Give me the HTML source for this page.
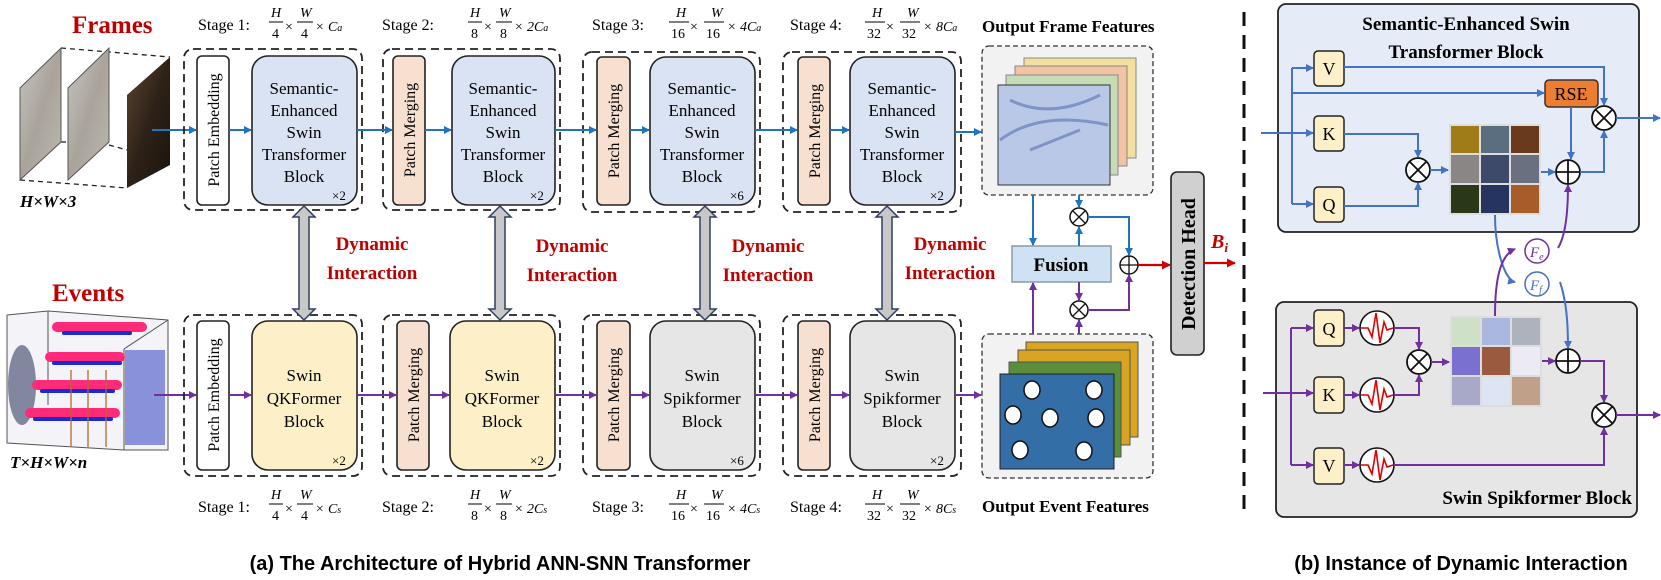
<!DOCTYPE html>
<html><head><meta charset="utf-8"><style>
html,body{margin:0;padding:0;background:#fff;}
svg{display:block;}
.s{font-family:"Liberation Serif",serif;}
.b{font-family:"Liberation Serif",serif;font-weight:bold;}
.cap{font-family:"Liberation Sans",sans-serif;font-weight:bold;font-size:20px;}
</style></head><body>
<svg width="1661" height="580" viewBox="0 0 1661 580" xmlns="http://www.w3.org/2000/svg">
<defs>
<marker id="ab" markerWidth="8" markerHeight="8" refX="7" refY="4" orient="auto" markerUnits="userSpaceOnUse"><path d="M0,0 L8,4 L0,8 z" fill="#1f74c2"/></marker>
<marker id="ap" markerWidth="8" markerHeight="8" refX="7" refY="4" orient="auto" markerUnits="userSpaceOnUse"><path d="M0,0 L8,4 L0,8 z" fill="#7030a0"/></marker>
<marker id="al" markerWidth="8" markerHeight="8" refX="7" refY="4" orient="auto" markerUnits="userSpaceOnUse"><path d="M0,0 L8,4 L0,8 z" fill="#4472c4"/></marker>
<marker id="ar" markerWidth="9" markerHeight="9" refX="8" refY="4.5" orient="auto" markerUnits="userSpaceOnUse"><path d="M0,0 L9,4.5 L0,9 z" fill="#d00000"/></marker>
<linearGradient id="g1" x1="0" y1="0" x2="1" y2="1"><stop offset="0" stop-color="#c9c6c0"/><stop offset="0.5" stop-color="#a9a39b"/><stop offset="1" stop-color="#bdb8b0"/></linearGradient>
<linearGradient id="g2" x1="0" y1="0" x2="1" y2="1"><stop offset="0" stop-color="#5a4630"/><stop offset="0.5" stop-color="#2e2218"/><stop offset="1" stop-color="#1a130c"/></linearGradient>
</defs>

<!-- Frames -->
<text x="72" y="33" class="b" font-size="25" fill="#c00000">Frames</text>
<g stroke="#222" stroke-dasharray="5,4" stroke-width="1.3" fill="none">
<line x1="61" y1="48" x2="170" y2="57"/><line x1="20" y1="180" x2="127" y2="188"/>
<line x1="61" y1="142" x2="68" y2="142"/><line x1="109" y1="145" x2="127" y2="150"/>
</g>
<polygon points="20,88 61,48 61,142 20,180" fill="url(#g1)" stroke="#555"/>
<polygon points="68,88 109,48 109,142 68,180" fill="url(#g1)" stroke="#555"/>
<polygon points="127,95 170,57 170,165 127,188" fill="url(#g2)"/>
<text x="20" y="207" class="b" font-style="italic" font-size="17">H×W×3</text>
<line x1="152" y1="130" x2="196" y2="130" stroke="#1f74c2" stroke-width="2" marker-end="url(#ab)"/>

<!-- Events -->
<text x="52" y="301" class="b" font-size="25" fill="#c00000">Events</text>
<g>
<polygon points="7,315 48,311 168,320 168,450 124,450 7,443" fill="#f4f4f8" stroke="#555"/>
<line x1="48" y1="311" x2="48" y2="405" stroke="#555"/><line x1="124" y1="349" x2="124" y2="450" stroke="#555"/>
<line x1="124" y1="349" x2="168" y2="320" stroke="#555"/>
<rect x="125" y="350" width="40" height="95" fill="#3040c0" opacity="0.55"/>
<ellipse cx="22" cy="385" rx="14" ry="40" fill="#505878" opacity="0.7"/>
<g fill="#ff2a78">
<rect x="52" y="322" width="95" height="10" rx="5"/><rect x="45" y="352" width="80" height="10" rx="5"/>
<rect x="32" y="380" width="90" height="10" rx="5"/><rect x="25" y="408" width="95" height="10" rx="5"/>
</g>
<g fill="#1a2ad0">
<rect x="62" y="331" width="70" height="4" rx="2"/><rect x="52" y="361" width="70" height="4" rx="2"/>
<rect x="40" y="389" width="75" height="4" rx="2"/><rect x="33" y="417" width="80" height="4" rx="2"/>
</g>
<g stroke="#b06a30" stroke-width="1.3"><line x1="71" y1="370" x2="71" y2="447"/><line x1="88" y1="370" x2="88" y2="447"/><line x1="106" y1="370" x2="106" y2="447"/></g>
</g>
<text x="10" y="468" class="b" font-style="italic" font-size="17">T×H×W×n</text>
<line x1="154" y1="395" x2="196" y2="395" stroke="#7030a0" stroke-width="2" marker-end="url(#ap)"/>

<!-- Stage labels -->
<g class="s" font-size="16">
<text x="198" y="30">Stage 1:</text><text x="382" y="30">Stage 2:</text><text x="592" y="30">Stage 3:</text><text x="790" y="30">Stage 4:</text>
<text x="198" y="512">Stage 1:</text><text x="382" y="512">Stage 2:</text><text x="592" y="512">Stage 3:</text><text x="790" y="512">Stage 4:</text>
</g>
<g class="s" font-size="14" font-style="italic">
<text x="271" y="17">H</text><text x="300" y="17">W</text><line x1="269" y1="22" x2="283" y2="22" stroke="#000"/><line x1="297" y1="22" x2="313" y2="22" stroke="#000"/>
<text x="272" y="38" font-style="normal">4</text><text x="301" y="38" font-style="normal">4</text><text x="285" y="31" font-style="normal">×</text><text x="315" y="31">× C<tspan font-size="10">a</tspan></text>
<text x="470" y="17">H</text><text x="499" y="17">W</text><line x1="468" y1="22" x2="482" y2="22" stroke="#000"/><line x1="496" y1="22" x2="512" y2="22" stroke="#000"/>
<text x="471" y="38" font-style="normal">8</text><text x="500" y="38" font-style="normal">8</text><text x="484" y="31" font-style="normal">×</text><text x="514" y="31">× 2C<tspan font-size="10">a</tspan></text>
<text x="676" y="17">H</text><text x="711" y="17">W</text><line x1="669" y1="22" x2="689" y2="22" stroke="#000"/><line x1="704" y1="22" x2="724" y2="22" stroke="#000"/>
<text x="671" y="38" font-style="normal">16</text><text x="706" y="38" font-style="normal">16</text><text x="690" y="31" font-style="normal">×</text><text x="727" y="31">× 4C<tspan font-size="10">a</tspan></text>
<text x="872" y="17">H</text><text x="907" y="17">W</text><line x1="865" y1="22" x2="885" y2="22" stroke="#000"/><line x1="900" y1="22" x2="920" y2="22" stroke="#000"/>
<text x="867" y="38" font-style="normal">32</text><text x="902" y="38" font-style="normal">32</text><text x="886" y="31" font-style="normal">×</text><text x="923" y="31">× 8C<tspan font-size="10">a</tspan></text>
<text x="271" y="499">H</text><text x="300" y="499">W</text><line x1="269" y1="504" x2="283" y2="504" stroke="#000"/><line x1="297" y1="504" x2="313" y2="504" stroke="#000"/>
<text x="272" y="520" font-style="normal">4</text><text x="301" y="520" font-style="normal">4</text><text x="285" y="513" font-style="normal">×</text><text x="315" y="513">× C<tspan font-size="10">s</tspan></text>
<text x="470" y="499">H</text><text x="499" y="499">W</text><line x1="468" y1="504" x2="482" y2="504" stroke="#000"/><line x1="496" y1="504" x2="512" y2="504" stroke="#000"/>
<text x="471" y="520" font-style="normal">8</text><text x="500" y="520" font-style="normal">8</text><text x="484" y="513" font-style="normal">×</text><text x="514" y="513">× 2C<tspan font-size="10">s</tspan></text>
<text x="676" y="499">H</text><text x="711" y="499">W</text><line x1="669" y1="504" x2="689" y2="504" stroke="#000"/><line x1="704" y1="504" x2="724" y2="504" stroke="#000"/>
<text x="671" y="520" font-style="normal">16</text><text x="706" y="520" font-style="normal">16</text><text x="690" y="513" font-style="normal">×</text><text x="727" y="513">× 4C<tspan font-size="10">s</tspan></text>
<text x="872" y="499">H</text><text x="907" y="499">W</text><line x1="865" y1="504" x2="885" y2="504" stroke="#000"/><line x1="900" y1="504" x2="920" y2="504" stroke="#000"/>
<text x="867" y="520" font-style="normal">32</text><text x="902" y="520" font-style="normal">32</text><text x="886" y="513" font-style="normal">×</text><text x="923" y="513">× 8C<tspan font-size="10">s</tspan></text>
</g>

<!-- Dashed stage groups -->
<g fill="none" stroke="#222" stroke-width="1.8" stroke-dasharray="8,5">
<rect x="184" y="49" width="178" height="161" rx="9"/><rect x="383" y="49" width="177" height="161" rx="9"/>
<rect x="583" y="52" width="177" height="160" rx="9"/><rect x="783" y="52" width="178" height="160" rx="9"/>
<rect x="184" y="315" width="178" height="161" rx="9"/><rect x="383" y="315" width="177" height="161" rx="9"/>
<rect x="583" y="315" width="177" height="161" rx="9"/><rect x="783" y="315" width="178" height="161" rx="9"/>
</g>
<g stroke="#222" stroke-width="1.6">
<rect x="197" y="56" width="32" height="149" rx="5" fill="#fff"/>
<rect x="393" y="56" width="32" height="149" rx="5" fill="#f8e0d0"/>
<rect x="597" y="57" width="33" height="148" rx="5" fill="#f8e0d0"/>
<rect x="798" y="57" width="32" height="148" rx="5" fill="#f8e0d0"/>
<rect x="252" y="56" width="105" height="149" rx="16" fill="#dae3f3"/>
<rect x="452" y="56" width="103" height="149" rx="16" fill="#dae3f3"/>
<rect x="650" y="57" width="105" height="148" rx="16" fill="#dae3f3"/>
<rect x="850" y="57" width="105" height="148" rx="16" fill="#dae3f3"/>
<rect x="197" y="321" width="32" height="149" rx="5" fill="#fff"/>
<rect x="397" y="321" width="32" height="149" rx="5" fill="#f8e0d0"/>
<rect x="597" y="321" width="33" height="149" rx="5" fill="#f8e0d0"/>
<rect x="798" y="321" width="32" height="149" rx="5" fill="#f8e0d0"/>
<rect x="252" y="321" width="105" height="149" rx="16" fill="#fdf0c8"/>
<rect x="450" y="321" width="105" height="149" rx="16" fill="#fdf0c8"/>
<rect x="650" y="321" width="105" height="149" rx="16" fill="#e6e6e6"/>
<rect x="850" y="321" width="105" height="149" rx="16" fill="#e6e6e6"/>
</g>
<g class="s" font-size="16" text-anchor="middle">
<text transform="translate(219,130) rotate(-90)">Patch Embedding</text>
<text transform="translate(415,130) rotate(-90)">Patch Merging</text>
<text transform="translate(619,131) rotate(-90)">Patch Merging</text>
<text transform="translate(820,131) rotate(-90)">Patch Merging</text>
<text transform="translate(219,395) rotate(-90)">Patch Embedding</text>
<text transform="translate(419,395) rotate(-90)">Patch Merging</text>
<text transform="translate(619,395) rotate(-90)">Patch Merging</text>
<text transform="translate(820,395) rotate(-90)">Patch Merging</text>
</g>
<g class="s" font-size="17" text-anchor="middle">
<g transform="translate(304,0)"><text y="94">Semantic-</text><text y="116">Enhanced</text><text y="138">Swin</text><text y="160">Transformer</text><text y="182">Block</text></g>
<g transform="translate(503,0)"><text y="94">Semantic-</text><text y="116">Enhanced</text><text y="138">Swin</text><text y="160">Transformer</text><text y="182">Block</text></g>
<g transform="translate(702,0)"><text y="94">Semantic-</text><text y="116">Enhanced</text><text y="138">Swin</text><text y="160">Transformer</text><text y="182">Block</text></g>
<g transform="translate(902,0)"><text y="94">Semantic-</text><text y="116">Enhanced</text><text y="138">Swin</text><text y="160">Transformer</text><text y="182">Block</text></g>
<g transform="translate(304,0)"><text y="381">Swin</text><text y="404">QKFormer</text><text y="427">Block</text></g>
<g transform="translate(502,0)"><text y="381">Swin</text><text y="404">QKFormer</text><text y="427">Block</text></g>
<g transform="translate(702,0)"><text y="381">Swin</text><text y="404">Spikformer</text><text y="427">Block</text></g>
<g transform="translate(902,0)"><text y="381">Swin</text><text y="404">Spikformer</text><text y="427">Block</text></g>
</g>
<g class="s" font-size="13">
<text x="332" y="200">×2</text><text x="530" y="200">×2</text><text x="730" y="200">×6</text><text x="930" y="200">×2</text>
<text x="332" y="465">×2</text><text x="530" y="465">×2</text><text x="730" y="465">×6</text><text x="930" y="465">×2</text>
</g>
<g stroke="#1f74c2" stroke-width="2" marker-end="url(#ab)">
<line x1="229" y1="130" x2="251" y2="130"/><line x1="357" y1="130" x2="392" y2="130"/><line x1="425" y1="130" x2="451" y2="130"/>
<line x1="555" y1="130" x2="596" y2="130"/><line x1="630" y1="130" x2="649" y2="130"/><line x1="755" y1="130" x2="797" y2="130"/>
<line x1="830" y1="130" x2="849" y2="130"/><line x1="955" y1="132" x2="981" y2="132"/>
</g>
<g stroke="#7030a0" stroke-width="2" marker-end="url(#ap)">
<line x1="229" y1="395" x2="251" y2="395"/><line x1="357" y1="395" x2="396" y2="395"/><line x1="429" y1="395" x2="449" y2="395"/>
<line x1="555" y1="395" x2="596" y2="395"/><line x1="630" y1="395" x2="649" y2="395"/><line x1="755" y1="395" x2="797" y2="395"/>
<line x1="830" y1="395" x2="849" y2="395"/><line x1="955" y1="395" x2="981" y2="395"/>
</g>
<g fill="#c8c8c8" stroke="#2f3f5f" stroke-width="1.5">
<path d="M304,206 L315,217 L309,217 L309,309 L315,309 L304,320 L293,309 L299,309 L299,217 L293,217 Z"/>
<path d="M500,206 L511,217 L505,217 L505,309 L511,309 L500,320 L489,309 L495,309 L495,217 L489,217 Z"/>
<path d="M705,206 L716,217 L710,217 L710,309 L716,309 L705,320 L694,309 L700,309 L700,217 L694,217 Z"/>
<path d="M887,206 L898,217 L892,217 L892,309 L898,309 L887,320 L876,309 L882,309 L882,217 L876,217 Z"/>
</g>
<g class="b" font-size="19" fill="#c00000" text-anchor="middle">
<text x="372" y="250">Dynamic</text><text x="372" y="279">Interaction</text>
<text x="572" y="252">Dynamic</text><text x="572" y="281">Interaction</text>
<text x="768" y="252">Dynamic</text><text x="768" y="281">Interaction</text>
<text x="950" y="250">Dynamic</text><text x="950" y="279">Interaction</text>
</g>

<!-- Output frame features -->
<text x="982" y="32" class="b" font-size="17">Output Frame Features</text>
<rect x="982" y="46" width="171" height="149" rx="7" fill="#f2f2f2" stroke="#333" stroke-width="1.3" stroke-dasharray="5,3"/>
<rect x="1024" y="58" width="112" height="100" fill="#f3dfa0" stroke="#888"/>
<rect x="1015" y="66" width="112" height="100" fill="#f2c4a4" stroke="#888"/>
<rect x="1006" y="75" width="112" height="100" fill="#c6dcb8" stroke="#888"/>
<rect x="998" y="85" width="112" height="100" fill="#b8c8e6" stroke="#333"/>
<path d="M1000,140 Q1040,110 1108,125 M1010,100 Q1050,120 1100,95 M1030,150 L1080,130" stroke="#5a70b0" stroke-width="3" fill="none" opacity="0.6"/>
<rect x="982" y="334" width="171" height="144" rx="7" fill="#f2f2f2" stroke="#333" stroke-width="1.3" stroke-dasharray="5,3"/>
<rect x="1026" y="342" width="112" height="95" fill="#daa520" stroke="#555"/>
<rect x="1018" y="350" width="112" height="95" fill="#d8a424" stroke="#555"/>
<rect x="1009" y="362" width="112" height="95" fill="#5a8e3a" stroke="#555"/>
<rect x="1000" y="374" width="114" height="95" fill="#336fa6" stroke="#222"/>
<g fill="#fff" stroke="#111" stroke-width="1.5">
<ellipse cx="1032" cy="390" rx="8" ry="9"/><ellipse cx="1094" cy="390" rx="8" ry="9"/>
<ellipse cx="1013" cy="415" rx="8" ry="9"/><ellipse cx="1050" cy="418" rx="8" ry="9"/><ellipse cx="1096" cy="418" rx="8" ry="9"/>
<ellipse cx="1020" cy="450" rx="8" ry="9"/><ellipse cx="1084" cy="451" rx="8" ry="9"/>
</g>
<text x="982" y="512" class="b" font-size="17">Output Event Features</text>

<rect x="1012" y="246" width="99" height="36" fill="#cfe2f3" stroke="#8a9aaa" stroke-width="1.5"/>
<text x="1061" y="271" class="b" font-size="19" text-anchor="middle">Fusion</text>
<g fill="#fff" stroke="#111" stroke-width="1.5">
<circle cx="1079" cy="217" r="9"/><circle cx="1079" cy="310" r="9"/><circle cx="1129" cy="265" r="9"/>
</g>
<g stroke="#111" stroke-width="1.3">
<path d="M1073,211 L1085,223 M1085,211 L1073,223 M1073,304 L1085,316 M1085,304 L1073,316 M1120,265 L1138,265 M1129,256 L1129,274"/>
</g>
<g stroke="#1f74c2" stroke-width="2" fill="none">
<line x1="1033" y1="195" x2="1033" y2="245" marker-end="url(#ab)"/>
<line x1="1079" y1="195" x2="1079" y2="207" marker-end="url(#ab)"/>
<line x1="1079" y1="246" x2="1079" y2="227" marker-end="url(#ab)"/>
<polyline points="1088,217 1129,217 1129,255" marker-end="url(#ab)"/>
</g>
<g stroke="#7030a0" stroke-width="2" fill="none">
<line x1="1033" y1="334" x2="1033" y2="283" marker-end="url(#ap)"/>
<line x1="1079" y1="282" x2="1079" y2="300" marker-end="url(#ap)"/>
<line x1="1079" y1="334" x2="1079" y2="320" marker-end="url(#ap)"/>
<polyline points="1088,310 1129,310 1129,275" marker-end="url(#ap)"/>
</g>
<line x1="1138" y1="265" x2="1170" y2="265" stroke="#d00000" stroke-width="2.2" marker-end="url(#ar)"/>
<rect x="1171" y="172" width="33" height="183" rx="6" fill="#d0d0d0" stroke="#222" stroke-width="1.6"/>
<text transform="translate(1195,264) rotate(-90)" class="b" font-size="20" text-anchor="middle">Detection Head</text>
<line x1="1204" y1="263" x2="1235" y2="263" stroke="#d00000" stroke-width="2.2" marker-end="url(#ar)"/>
<text x="1211" y="248" class="b" font-style="italic" font-size="20" fill="#c00000">B<tspan font-size="13" dy="4">i</tspan></text>

<line x1="1244" y1="12" x2="1244" y2="515" stroke="#111" stroke-width="3" stroke-dasharray="14,9"/>

<!-- Right panel boxes -->
<rect x="1278" y="4" width="361" height="228" rx="8" fill="#e6ecf7" stroke="#222" stroke-width="1.8"/>
<rect x="1276" y="302" width="361" height="215" rx="8" fill="#e6e6e6" stroke="#222" stroke-width="1.8"/>
<text x="1466" y="30" class="b" font-size="19" text-anchor="middle">Semantic-Enhanced Swin</text>
<text x="1466" y="58" class="b" font-size="19" text-anchor="middle">Transformer Block</text>
<text x="1632" y="504" class="b" font-size="19" text-anchor="end">Swin Spikformer Block</text>
<g stroke="#222" stroke-width="1.5" fill="#fdf0c8">
<rect x="1314" y="51" width="30" height="35" rx="4"/><rect x="1314" y="116" width="30" height="35" rx="4"/><rect x="1314" y="187" width="30" height="35" rx="4"/>
<rect x="1314" y="310" width="30" height="36" rx="4"/><rect x="1314" y="377" width="30" height="36" rx="4"/><rect x="1314" y="448" width="30" height="36" rx="4"/>
</g>
<rect x="1545" y="80" width="53" height="27" rx="4" fill="#ed7d31" stroke="#333" stroke-width="1.5"/>
<g class="s" font-size="18" text-anchor="middle">
<text x="1329" y="75">V</text><text x="1329" y="140">K</text><text x="1329" y="211">Q</text>
<text x="1329" y="335">Q</text><text x="1329" y="401">K</text><text x="1329" y="472">V</text>
<text x="1571" y="100">RSE</text>
</g>
<rect x="1449" y="124" width="92" height="91" fill="#ddd"/>
<g>
<rect x="1451" y="126" width="28" height="27" fill="#a07c18"/><rect x="1481" y="126" width="28" height="27" fill="#5a6e80"/><rect x="1511" y="126" width="28" height="27" fill="#6a3a1c"/>
<rect x="1451" y="155" width="28" height="28" fill="#8a8686"/><rect x="1481" y="155" width="28" height="28" fill="#3e4a6a"/><rect x="1511" y="155" width="28" height="28" fill="#6a7080"/>
<rect x="1451" y="185" width="28" height="28" fill="#2a3818"/><rect x="1481" y="185" width="28" height="28" fill="#253560"/><rect x="1511" y="185" width="28" height="28" fill="#a85c28"/>
</g>
<rect x="1450" y="316" width="92" height="91" fill="#ddd"/>
<g>
<rect x="1452" y="318" width="28" height="27" fill="#cfe0c8"/><rect x="1482" y="318" width="28" height="27" fill="#aab8e0"/><rect x="1512" y="318" width="28" height="27" fill="#aeb2bc"/>
<rect x="1452" y="347" width="28" height="28" fill="#7a70d0"/><rect x="1482" y="347" width="28" height="28" fill="#9a5a40"/><rect x="1512" y="347" width="28" height="28" fill="#eceaf4"/>
<rect x="1452" y="377" width="28" height="28" fill="#a8a8c8"/><rect x="1482" y="377" width="28" height="28" fill="#dde4f4"/><rect x="1512" y="377" width="28" height="28" fill="#c0a088"/>
</g>
<g fill="#fff" stroke="#111" stroke-width="1.6">
<circle cx="1377" cy="328" r="17"/><circle cx="1377" cy="395" r="17"/><circle cx="1377" cy="465" r="17"/>
</g>
<g fill="none" stroke="#e00000" stroke-width="1.6">
<path d="M1361,328 L1368,328 L1372,337 L1376,313 L1380,343 L1384,322 L1387,330 L1393,328"/>
<path d="M1361,395 L1368,395 L1372,404 L1376,380 L1380,410 L1384,389 L1387,397 L1393,395"/>
<path d="M1361,465 L1368,465 L1372,474 L1376,450 L1380,480 L1384,459 L1387,467 L1393,465"/>
</g>
<g fill="#fff" stroke="#111" stroke-width="1.8">
<circle cx="1418" cy="170" r="12"/><circle cx="1568" cy="172" r="12"/><circle cx="1604" cy="118" r="12"/>
<circle cx="1419" cy="362" r="12"/><circle cx="1568" cy="361" r="12"/><circle cx="1604" cy="415" r="12"/>
</g>
<g stroke="#111" stroke-width="1.8">
<path d="M1410,162 L1426,178 M1426,162 L1410,178 M1596,110 L1612,126 M1612,110 L1596,126 M1411,354 L1427,370 M1427,354 L1411,370 M1596,407 L1612,423 M1612,407 L1596,423 M1556,172 L1580,172 M1568,160 L1568,184 M1556,361 L1580,361 M1568,349 L1568,373"/>
</g>
<g stroke="#4472c4" stroke-width="2" fill="none">
<line x1="1261" y1="133" x2="1313" y2="133" marker-end="url(#al)"/>
<line x1="1292" y1="68" x2="1292" y2="204"/>
<line x1="1292" y1="68" x2="1313" y2="68" marker-end="url(#al)"/>
<line x1="1292" y1="204" x2="1313" y2="204" marker-end="url(#al)"/>
<line x1="1292" y1="93" x2="1544" y2="93" marker-end="url(#al)"/>
<polyline points="1344,67 1604,67 1604,105" marker-end="url(#al)"/>
<polyline points="1344,134 1418,134 1418,157" marker-end="url(#al)"/>
<polyline points="1344,206 1418,206 1418,183" marker-end="url(#al)"/>
<line x1="1430" y1="170" x2="1448" y2="170" marker-end="url(#al)"/>
<line x1="1541" y1="172" x2="1555" y2="172" marker-end="url(#al)"/>
<line x1="1571" y1="107" x2="1571" y2="159" marker-end="url(#al)"/>
<polyline points="1580,172 1604,172 1604,131" marker-end="url(#al)"/>
<line x1="1616" y1="118" x2="1660" y2="118" marker-end="url(#al)"/>
<path d="M1495,215 C1495,250 1505,280 1515,282" marker-end="url(#al)"/>
<path d="M1560,282 C1566,300 1568,320 1568,348" marker-end="url(#al)"/>
</g>
<g stroke="#7030a0" stroke-width="2" fill="none">
<path d="M1495,316 C1495,280 1500,255 1515,249" marker-end="url(#ap)"/>
<path d="M1558,248 C1566,235 1568,210 1568,185" marker-end="url(#ap)"/>
<line x1="1263" y1="393" x2="1313" y2="393" marker-end="url(#ap)"/>
<line x1="1291" y1="328" x2="1291" y2="465"/>
<line x1="1291" y1="328" x2="1313" y2="328" marker-end="url(#ap)"/>
<line x1="1291" y1="465" x2="1313" y2="465" marker-end="url(#ap)"/>
<line x1="1344" y1="328" x2="1359" y2="328" marker-end="url(#ap)"/>
<line x1="1344" y1="395" x2="1359" y2="395" marker-end="url(#ap)"/>
<line x1="1344" y1="465" x2="1359" y2="465" marker-end="url(#ap)"/>
<polyline points="1394,328 1419,328 1419,349" marker-end="url(#ap)"/>
<polyline points="1394,395 1419,395 1419,375" marker-end="url(#ap)"/>
<line x1="1431" y1="362" x2="1449" y2="362" marker-end="url(#ap)"/>
<line x1="1542" y1="361" x2="1555" y2="361" marker-end="url(#ap)"/>
<polyline points="1580,361 1604,361 1604,402" marker-end="url(#ap)"/>
<polyline points="1394,465 1604,465 1604,428" marker-end="url(#ap)"/>
<line x1="1616" y1="415" x2="1660" y2="415" marker-end="url(#ap)"/>
</g>
<circle cx="1537" cy="251" r="12" fill="#fff" stroke="#7030a0" stroke-width="1.5"/>
<circle cx="1537" cy="284" r="12" fill="#fff" stroke="#4472c4" stroke-width="1.5"/>
<text x="1530" y="257" class="s" font-style="italic" font-size="15" fill="#7030a0">F<tspan font-size="10" dy="3">e</tspan></text>
<text x="1530" y="290" class="s" font-style="italic" font-size="15" fill="#4472c4">F<tspan font-size="10" dy="3">f</tspan></text>

<text x="500" y="570" class="cap" text-anchor="middle">(a) The Architecture of Hybrid ANN-SNN Transformer</text>
<text x="1461" y="570" class="cap" text-anchor="middle">(b) Instance of Dynamic Interaction</text>
</svg>
</body></html>
